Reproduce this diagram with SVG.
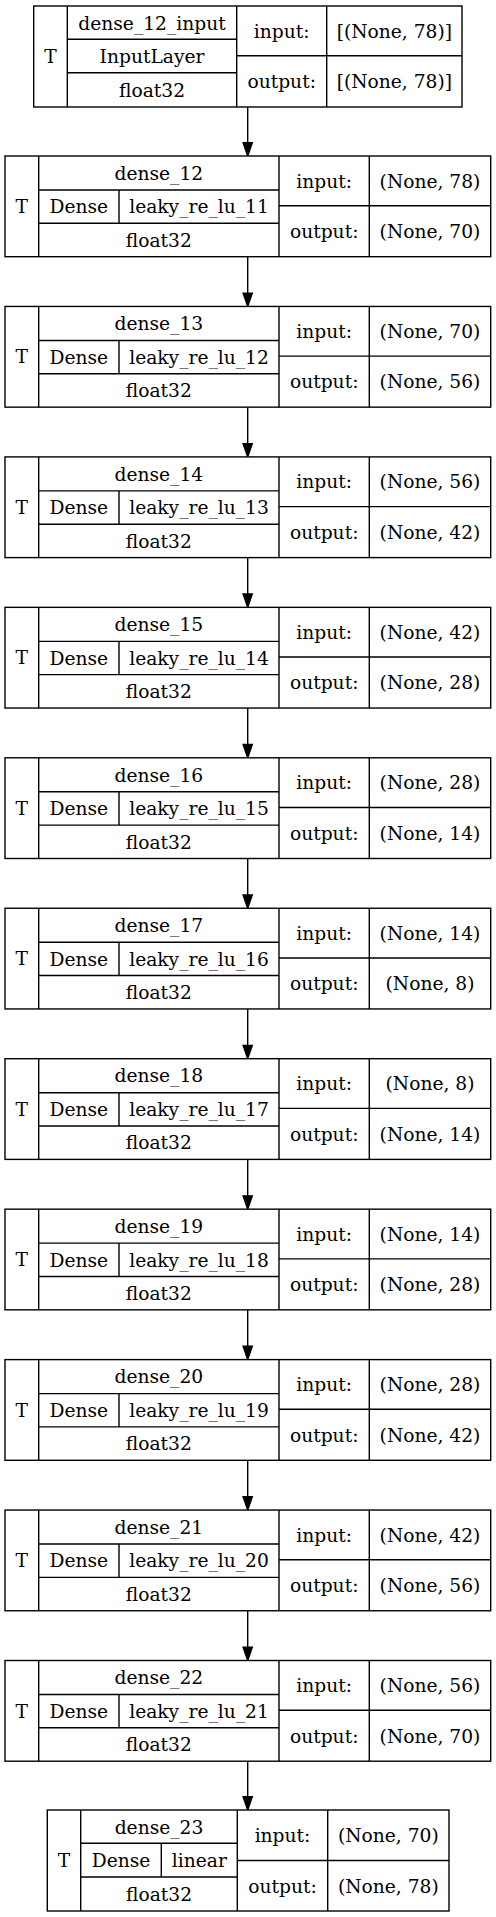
<svg xmlns="http://www.w3.org/2000/svg" xmlns:xlink="http://www.w3.org/1999/xlink" width="496" height="1917" viewBox="0 0 496 1917">
<style>
.b{fill:#fff;stroke:#000;stroke-width:1.4}
.l{stroke:#000;stroke-width:1.4;fill:none}
text{font-family:"DejaVu Serif",serif;font-size:18.67px;text-anchor:middle;fill:#000}
.e{stroke:#000;stroke-width:1.4;fill:none}
.h{fill:#000;stroke:#000;stroke-width:1.4}
</style>
<defs>
<g id="frame">
<rect class="b" x="5" y="0" width="485.7" height="100.7"/>
<path class="l" d="M38.7,0V100.7M279,0V100.7M369.3,0V100.7M38.7,34H279M38.7,67.3H279M119,34V67.3M279,49.7H490.7"/>
<text x="21.8" y="57">T</text>
<text x="78.8" y="57.4">Dense</text>
<text x="158.8" y="90.8">float32</text>
<text x="324.2" y="31.6">input:</text>
<text x="324.2" y="82">output:</text>
</g>
</defs>
<g id="connectors">
<path class="e" d="M247.7,107V142.7"/><polygon class="h" points="243.1,142.7 252.3,142.7 247.7,156"/>
<path class="e" d="M247.7,256.7V293.15"/><polygon class="h" points="243.1,293.15 252.3,293.15 247.7,306.45"/>
<path class="e" d="M247.7,407.15V443.6"/><polygon class="h" points="243.1,443.6 252.3,443.6 247.7,456.9"/>
<path class="e" d="M247.7,557.6V594.05"/><polygon class="h" points="243.1,594.05 252.3,594.05 247.7,607.35"/>
<path class="e" d="M247.7,708.05V744.5"/><polygon class="h" points="243.1,744.5 252.3,744.5 247.7,757.8"/>
<path class="e" d="M247.7,858.5V894.95"/><polygon class="h" points="243.1,894.95 252.3,894.95 247.7,908.25"/>
<path class="e" d="M247.7,1008.95V1045.4"/><polygon class="h" points="243.1,1045.4 252.3,1045.4 247.7,1058.7"/>
<path class="e" d="M247.7,1159.4V1195.85"/><polygon class="h" points="243.1,1195.85 252.3,1195.85 247.7,1209.15"/>
<path class="e" d="M247.7,1309.85V1346.3"/><polygon class="h" points="243.1,1346.3 252.3,1346.3 247.7,1359.6"/>
<path class="e" d="M247.7,1460.3V1496.75"/><polygon class="h" points="243.1,1496.75 252.3,1496.75 247.7,1510.05"/>
<path class="e" d="M247.7,1610.75V1647.2"/><polygon class="h" points="243.1,1647.2 252.3,1647.2 247.7,1660.5"/>
<path class="e" d="M247.7,1761.2V1796.7"/><polygon class="h" points="243.1,1796.7 252.3,1796.7 247.7,1810"/>
</g>
<g id="dense_12_input">
<rect class="b" x="33.7" y="6" width="428.3" height="101"/>
<path class="l" d="M67.3,6V107M236.7,6V107M326.7,6V107M67.3,39.3H236.7M67.3,72.7H236.7M236.7,55.7H462"/>
<text x="50.5" y="63.3">T</text>
<text x="152" y="29.5">dense_12_input</text>
<text x="152" y="62.8">InputLayer</text>
<text x="152" y="96.6">float32</text>
<text x="281.7" y="37.6">input:</text>
<text x="394.3" y="37.6">[(None, 78)]</text>
<text x="281.7" y="88.2">output:</text>
<text x="394.3" y="88.2">[(None, 78)]</text>
</g>
<g id="dense_12" transform="translate(0,156)"><use xlink:href="#frame"/><text x="158.8" y="23.8">dense_12</text><text x="199" y="57.4">leaky_re_lu_11</text><text x="430" y="31.6">(None, 78)</text><text x="430" y="82">(None, 70)</text></g>
<g id="dense_13" transform="translate(0,306.45)"><use xlink:href="#frame"/><text x="158.8" y="23.8">dense_13</text><text x="199" y="57.4">leaky_re_lu_12</text><text x="430" y="31.6">(None, 70)</text><text x="430" y="82">(None, 56)</text></g>
<g id="dense_14" transform="translate(0,456.9)"><use xlink:href="#frame"/><text x="158.8" y="23.8">dense_14</text><text x="199" y="57.4">leaky_re_lu_13</text><text x="430" y="31.6">(None, 56)</text><text x="430" y="82">(None, 42)</text></g>
<g id="dense_15" transform="translate(0,607.35)"><use xlink:href="#frame"/><text x="158.8" y="23.8">dense_15</text><text x="199" y="57.4">leaky_re_lu_14</text><text x="430" y="31.6">(None, 42)</text><text x="430" y="82">(None, 28)</text></g>
<g id="dense_16" transform="translate(0,757.8)"><use xlink:href="#frame"/><text x="158.8" y="23.8">dense_16</text><text x="199" y="57.4">leaky_re_lu_15</text><text x="430" y="31.6">(None, 28)</text><text x="430" y="82">(None, 14)</text></g>
<g id="dense_17" transform="translate(0,908.25)"><use xlink:href="#frame"/><text x="158.8" y="23.8">dense_17</text><text x="199" y="57.4">leaky_re_lu_16</text><text x="430" y="31.6">(None, 14)</text><text x="430" y="82">(None, 8)</text></g>
<g id="dense_18" transform="translate(0,1058.7)"><use xlink:href="#frame"/><text x="158.8" y="23.8">dense_18</text><text x="199" y="57.4">leaky_re_lu_17</text><text x="430" y="31.6">(None, 8)</text><text x="430" y="82">(None, 14)</text></g>
<g id="dense_19" transform="translate(0,1209.15)"><use xlink:href="#frame"/><text x="158.8" y="23.8">dense_19</text><text x="199" y="57.4">leaky_re_lu_18</text><text x="430" y="31.6">(None, 14)</text><text x="430" y="82">(None, 28)</text></g>
<g id="dense_20" transform="translate(0,1359.6)"><use xlink:href="#frame"/><text x="158.8" y="23.8">dense_20</text><text x="199" y="57.4">leaky_re_lu_19</text><text x="430" y="31.6">(None, 28)</text><text x="430" y="82">(None, 42)</text></g>
<g id="dense_21" transform="translate(0,1510.05)"><use xlink:href="#frame"/><text x="158.8" y="23.8">dense_21</text><text x="199" y="57.4">leaky_re_lu_20</text><text x="430" y="31.6">(None, 42)</text><text x="430" y="82">(None, 56)</text></g>
<g id="dense_22" transform="translate(0,1660.5)"><use xlink:href="#frame"/><text x="158.8" y="23.8">dense_22</text><text x="199" y="57.4">leaky_re_lu_21</text><text x="430" y="31.6">(None, 56)</text><text x="430" y="82">(None, 70)</text></g>
<g id="dense_23" transform="translate(0,1810)">
<rect class="b" x="47.3" y="0" width="401.7" height="101"/>
<path class="l" d="M80.7,0V101M237.3,0V101M327.7,0V101M80.7,33.3H237.3M80.7,67H237.3M161.3,33.3V67M237.3,50.5H449"/>
<text x="64" y="57.3">T</text>
<text x="159" y="23.5">dense_23</text>
<text x="121" y="57">Dense</text>
<text x="199.3" y="57">linear</text>
<text x="159" y="90.8">float32</text>
<text x="282.5" y="32">input:</text>
<text x="388.3" y="32">(None, 70)</text>
<text x="282.5" y="82.5">output:</text>
<text x="388.3" y="82.5">(None, 78)</text>
</g>
</svg>
